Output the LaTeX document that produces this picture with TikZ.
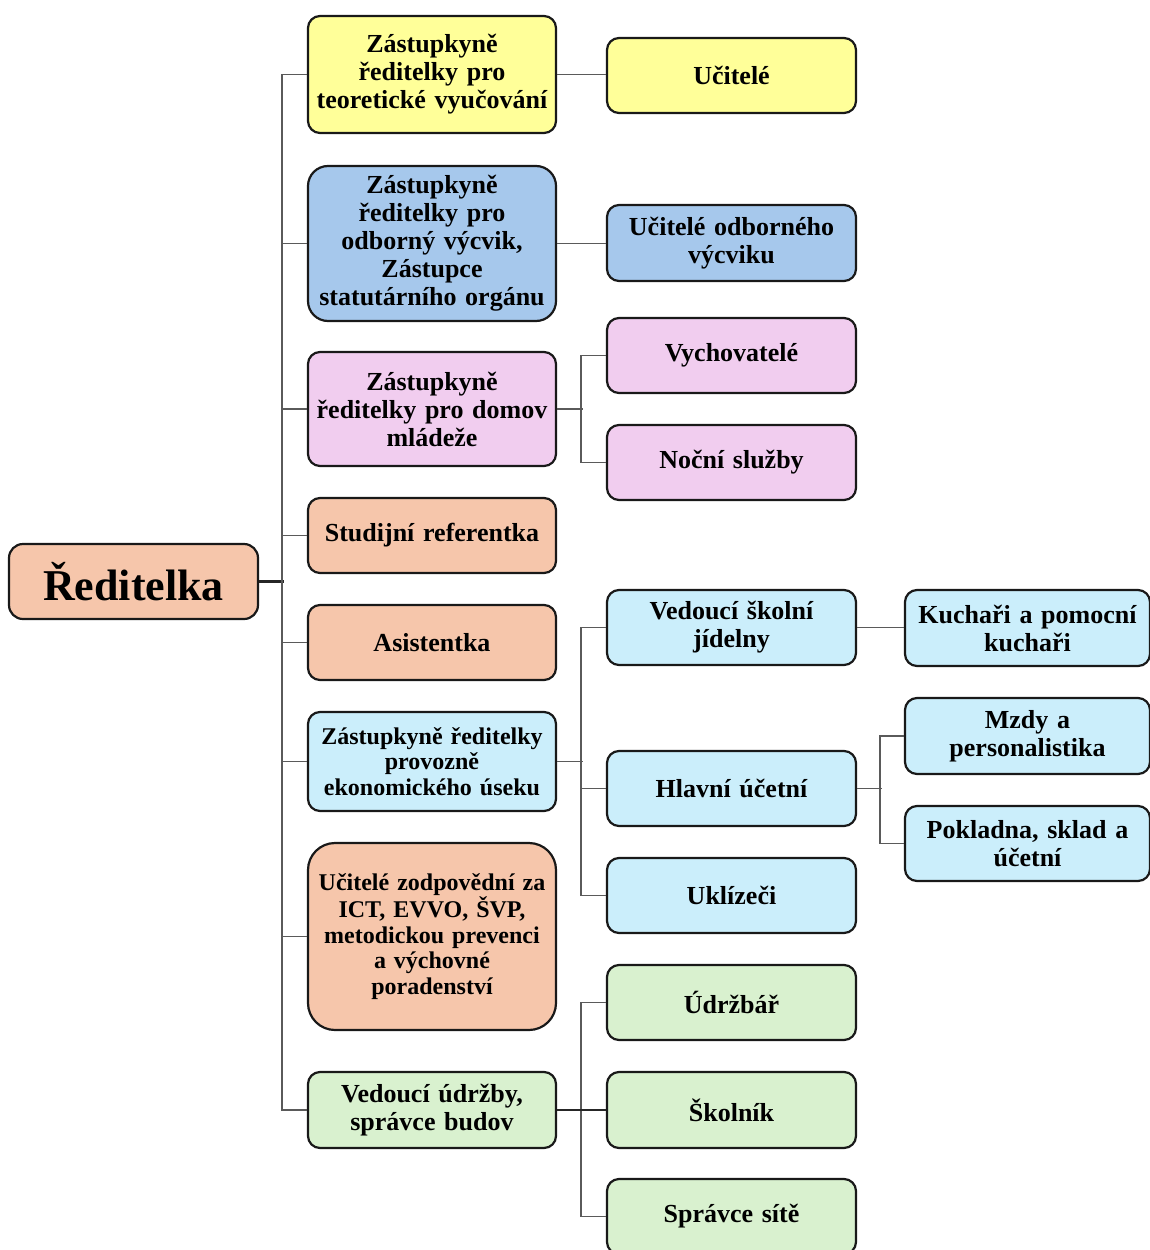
\documentclass[tikz,border=0pt]{standalone}
\usepackage{fontspec}
\setmainfont{Liberation Serif}
\definecolor{cyel}{HTML}{FFFF99}
\definecolor{cblu}{HTML}{A6C8EC}
\definecolor{cpnk}{HTML}{F1CDEF}
\definecolor{csal}{HTML}{F6C6AB}
\definecolor{ccya}{HTML}{CBEEFB}
\definecolor{cgrn}{HTML}{D9F1CF}
\definecolor{cline}{HTML}{5A5A5A}
\tikzset{
  box/.style={draw=black!90, line width=2.2pt, rounded corners=12pt, inner sep=0pt,
    align=center, font=\bfseries\fontsize{26}{28}\selectfont},
  c1/.style={box, minimum width=248pt, text width=244pt},
  c2/.style={box, minimum width=249pt, text width=245pt},
  c3/.style={box, minimum width=245pt, text width=241pt},
  small/.style={font=\bfseries\fontsize{24}{25.5}\selectfont},
  conn/.style={draw=cline, line width=1.8pt},
  strong/.style={draw=black!85, line width=2.4pt},
}
\begin{document}
\begin{tikzpicture}[x=1pt, y=-1pt]
\useasboundingbox (0,0) rectangle (1149,1250);
% root
\node[box, minimum width=249pt, minimum height=75pt, rounded corners=14pt, fill=csal,
  font=\bfseries\fontsize{44}{46}\selectfont] (red) at (133.5,581.5) {Ředitelka};
% column 1
\node[c1, fill=cyel, minimum height=117pt] (z1) at (432,74.5) {Zástupkyně\\ředitelky pro\\teoretické vyučování};
\node[c1, fill=cblu, minimum height=155pt, rounded corners=20pt] (z2) at (432,243.5) {Zástupkyně\\ředitelky pro\\odborný výcvik,\\Zástupce\\statutárního orgánu};
\node[c1, fill=cpnk, minimum height=114pt] (z3) at (432,409) {Zástupkyně\\ředitelky pro domov\\mládeže};
\node[c1, fill=csal, minimum height=75pt] (sr) at (432,535.5) {Studijní referentka};
\node[c1, fill=csal, minimum height=75pt] (as) at (432,642.5) {Asistentka};
\node[c1, small, fill=ccya, minimum height=99pt] (zp) at (432,761.5) {Zástupkyně ředitelky\\provozně\\ekonomického úseku};
\node[c1, small, fill=csal, minimum height=187pt, rounded corners=27pt] (uz) at (432,936.5) {Učitelé zodpovědní za\\ICT, EVVO, ŠVP,\\metodickou prevenci\\a výchovné\\poradenství};
\node[c1, fill=cgrn, minimum height=76pt] (vu) at (432,1110) {Vedoucí údržby,\\správce budov};
% column 2
\node[c2, fill=cyel, minimum height=75pt] (uc) at (731.5,75.5) {Učitelé};
\node[c2, fill=cblu, minimum height=76pt] (uov) at (731.5,243) {Učitelé odborného\\výcviku};
\node[c2, fill=cpnk, minimum height=75pt] (vy) at (731.5,355.5) {Vychovatelé};
\node[c2, fill=cpnk, minimum height=75pt] (ns) at (731.5,462.5) {Noční služby};
\node[c2, fill=ccya, minimum height=75pt] (vsj) at (731.5,627.5) {Vedoucí školní\\jídelny};
\node[c2, fill=ccya, minimum height=75pt] (hu) at (731.5,788.5) {Hlavní účetní};
\node[c2, fill=ccya, minimum height=75pt] (ukl) at (731.5,895.5) {Uklízeči};
\node[c2, fill=cgrn, minimum height=75pt] (udr) at (731.5,1002.5) {Údržbář};
\node[c2, fill=cgrn, minimum height=76pt] (sk) at (731.5,1110) {Školník};
\node[c2, fill=cgrn, minimum height=75pt] (ss) at (731.5,1216.5) {Správce sítě};
% column 3
\node[c3, fill=ccya, minimum height=76pt] (ku) at (1027.5,628) {Kuchaři a pomocní\\kuchaři};
\node[c3, fill=ccya, minimum height=76pt] (mz) at (1027.5,736) {Mzdy a\\personalistika};
\node[c3, fill=ccya, minimum height=75pt] (pk) at (1027.5,843.5) {Pokladna, sklad a\\účetní};
% connectors
\draw[strong] (red.east) -- ++(25,0);
\draw[conn] (z1.west) -- ++(-25,0) |- (vu.west);
\foreach \n in {z2,z3,sr,as,zp,uz} {\draw[conn] (\n.west) -- ++(-25,0);}
\draw[conn] (z1.east) -- (uc.west |- z1.east);
\draw[conn] (z2.east) -- (uov.west |- z2.east);
\draw[conn] (z3.east) -- ++(26,0);
\draw[conn] (vy.west) -- ++(-25,0) |- (ns.west);
\draw[conn] (zp.east) -- ++(26,0);
\draw[conn] (vsj.west) -- ++(-25,0) |- (ukl.west);
\draw[conn] (hu.west) -- ++(-25,0);
\draw[conn] (udr.west) -- ++(-25,0) |- (ss.west);
\draw[strong] (vu.east) -- (sk.west);
\draw[conn] (vsj.east) -- (ku.west |- vsj.east);
\draw[conn] (hu.east) -- ++(25,0);
\draw[conn] (mz.west) -- ++(-24,0) |- (pk.west);
\end{tikzpicture}
\end{document}
